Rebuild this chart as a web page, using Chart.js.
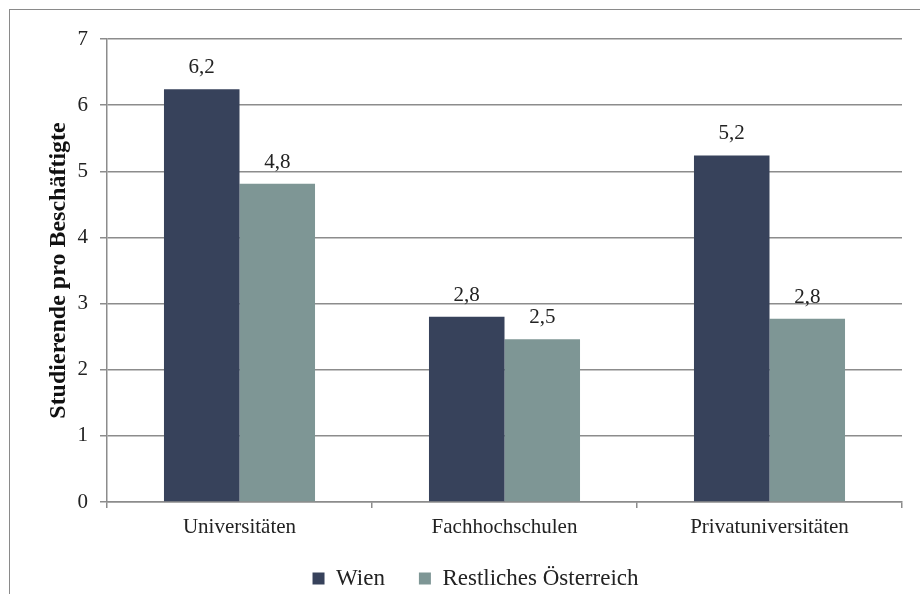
<!DOCTYPE html>
<html>
<head>
<meta charset="utf-8">
<script src="https://cdn.jsdelivr.net/npm/chart.js@4.4.1/dist/chart.umd.min.js"></script>
<style>
  html, body { margin: 0; padding: 0; background: #fff; overflow: hidden; }
  #wrap { position: relative; width: 920px; height: 594px; overflow: hidden; }
  #frame { position: absolute; left: 9px; top: 9px; width: 1000px; height: 1000px; border: 1px solid #8a8a8a; }
  canvas { position: absolute; left: 0; top: 0; }
</style>
</head>
<body>
<div id="wrap">
  <div id="frame"></div>
  <canvas id="myChart" width="920" height="600"></canvas>
</div>
<script>
// categories and values
var categories = ['Universitäten', 'Fachhochschulen', 'Privatuniversitäten'];
var wien = [6.24, 2.80, 5.24];
var restOesterreich = [4.81, 2.46, 2.77];
var seriesNames = ['Wien', 'Restliches Österreich'];
var yTicks = [0, 1, 2, 3, 4, 5, 6, 7];

var serif = '"Liberation Serif", "Times New Roman", serif';
var gridColor = '#8c8c8c';

// value labels above the bars, e.g. "6,2"
var barLabels = {
    id: 'barLabels',
    afterDatasetsDraw: function (chart) {
        var ctx = chart.ctx;
        ctx.save();
        ctx.font = '21px ' + serif;
        ctx.fillStyle = '#222';
        ctx.textAlign = 'center';
        ctx.textBaseline = 'alphabetic';
        chart.data.datasets.forEach(function (ds, i) {
            chart.getDatasetMeta(i).data.forEach(function (bar, j) {
                var txt = ds.data[j].toFixed(1).replace('.', ',');
                ctx.fillText(txt, bar.x, bar.y - 16);
            });
        });
        ctx.restore();
    }
};

var ctx = document.getElementById('myChart').getContext('2d');
var myChart = new Chart(ctx, {
    type: 'bar',
    data: {
        labels: categories,
        datasets: [{
                label: seriesNames[0],
                data: wien,
                backgroundColor: '#37425b',
                borderWidth: 0
            },
            {
                label: seriesNames[1],
                data: restOesterreich,
                backgroundColor: '#7e9695',
                borderWidth: 0
            }
        ]
    },
    options: {
        responsive: false,
        animation: false,
        devicePixelRatio: 1,
        datasets: {
            bar: {
                categoryPercentage: 0.57,
                barPercentage: 1
            }
        },
        layout: {
            padding: { left: 49, right: 18, top: 39, bottom: 0 }
        },
        plugins: {
            tooltip: { enabled: false },
            legend: {
                position: 'bottom',
                labels: {
                    boxWidth: 12,
                    boxHeight: 12,
                    padding: 34,
                    color: '#222',
                    font: { family: serif, size: 23 }
                }
            }
        },
        scales: {
            x: {
                grid: {
                    offset: true,
                    drawOnChartArea: false,
                    drawTicks: true,
                    tickLength: 6,
                    color: gridColor,
                    lineWidth: 1.5
                },
                border: { color: gridColor, width: 1.5 },
                ticks: {
                    color: '#222',
                    padding: 7,
                    font: { family: serif, size: 21 }
                },
                afterFit: function (scale) { scale.height = 31; }
            },
            y: {
                min: 0,
                max: 7,
                afterBuildTicks: function (scale) {
                    scale.ticks = yTicks.map(function (v) { return { value: v }; });
                },
                grid: {
                    color: gridColor,
                    lineWidth: 1.5,
                    tickLength: 7
                },
                border: { color: gridColor, width: 1.5 },
                ticks: {
                    color: '#222',
                    padding: 12,
                    font: { family: serif, size: 21 }
                },
                title: {
                    display: true,
                    text: 'Studierende pro Beschäftigte',
                    color: '#111',
                    padding: { top: -5, bottom: 0 },
                    font: { family: serif, size: 24, weight: 'bold' }
                },
                afterFit: function (scale) { scale.width = 58; }
            }
        }
    },
    plugins: [barLabels]
});
</script>
</body>
</html>
